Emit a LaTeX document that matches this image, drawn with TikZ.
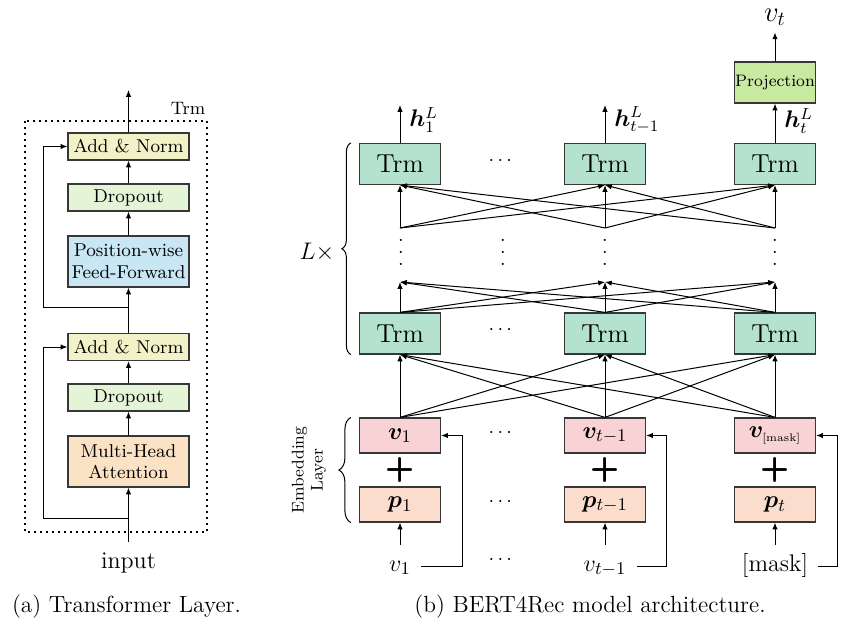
\documentclass[tikz,border=0pt]{standalone}
\usepackage{amsmath}
\usepackage{amssymb}
\usepackage{bm}
\usetikzlibrary{arrows.meta,decorations.pathreplacing}

\definecolor{addnormc}{RGB}{242,242,200}
\definecolor{dropc}{RGB}{228,244,215}
\definecolor{ffnc}{RGB}{200,230,243}
\definecolor{mhac}{RGB}{252,226,196}
\definecolor{trmc}{RGB}{180,226,206}
\definecolor{projc}{RGB}{200,233,160}
\definecolor{vembc}{RGB}{248,210,212}
\definecolor{pembc}{RGB}{251,221,205}
\definecolor{edgec}{RGB}{55,55,55}

\newcommand{\vdts}{\vbox{\baselineskip6pt\lineskiplimit0pt\hbox{.}\hbox{.}\hbox{.}}}

\tikzset{
	box/.style={draw=edgec, line width=0.6pt, inner sep=0pt, minimum width=60.5pt, align=center, font=\fontsize{9.3}{10.8}\selectfont},
	thinbox/.style={box, minimum height=13.5pt},
	tallbox/.style={box, minimum height=25.5pt},
	trmbox/.style={draw=edgec, line width=0.6pt, fill=trmc, inner sep=0pt, minimum width=40.5pt, minimum height=20.5pt, font=\fontsize{13}{15}\selectfont},
	embbox/.style={draw=edgec, line width=0.6pt, inner sep=0pt, minimum width=40.5pt, minimum height=17.5pt, font=\fontsize{13}{15}\selectfont},
	inlbl/.style={anchor=base, inner sep=5pt, text height=8pt, text depth=3pt, font=\fontsize{13}{15}\selectfont},
	plus/.style={inner sep=0pt, font=\fontsize{17}{17}\sffamily\bfseries},
	arr/.style={-{Latex[length=3.4pt,width=2.7pt]}, line width=0.5pt},
	ln/.style={line width=0.5pt},
}

\begin{document}
\begin{tikzpicture}[x=0.5pt,y=-0.5pt]
			\useasboundingbox (0,0) rectangle (850,631);
			
			\draw[line width=1pt, dash pattern=on 1pt off 2pt] (25,121) rectangle (207,532);
			\node[font=\fontsize{9}{10}\selectfont] (trmlbl) at (188,108) {Trm};
			
			\node[thinbox,fill=addnormc] (an2) at (128.5,146.5) {Add \& Norm};
			\node[thinbox,fill=dropc] (do2) at (128.5,197.5) {Dropout};
			\node[tallbox,fill=ffnc] (ff) at (128.5,261.5) {Position-wise\\Feed-Forward};
			\node[thinbox,fill=addnormc] (an1) at (128.5,347) {Add \& Norm};
			\node[thinbox,fill=dropc] (do1) at (128.5,397.5) {Dropout};
			\node[tallbox,fill=mhac] (mha) at (128.5,461.5) {Multi-Head\\Attention};
			\node[inlbl,font=\fontsize{12}{14}\selectfont] (inp) at (128.5,568) {input};
			
			\coordinate (j1) at (128.5,518);
			\coordinate (k1) at (43,518);
			\coordinate (j2) at (128.5,307);
			\coordinate (k2) at (43,307);
			\coordinate (top) at (128.5,90);
			
			\path [arr] (inp) edge (mha);
			\path [arr] (mha) edge (do1);
			\path [arr] (do1) edge (an1);
			\path [arr] (an1) edge (ff);
			\path [arr] (ff) edge (do2);
			\path [arr] (do2) edge (an2);
			\path [arr] (an2) edge (top);
			\draw [arr] (j1) -- (k1) |- (an1);
			\draw [arr] (j2) -- (k2) |- (an2);
			
			\node[trmbox] (tu1) at (400,164) {Trm};
			\node[trmbox] (tu2) at (605,164) {Trm};
			\node[trmbox] (tu3) at (775,164) {Trm};
			\node[trmbox] (tl1) at (400,333.5) {Trm};
			\node[trmbox] (tl2) at (605,333.5) {Trm};
			\node[trmbox] (tl3) at (775,333.5) {Trm};
			\node[embbox,fill=vembc] (v1) at (400,435.5) {$\bm{v}_1$};
			\node[embbox,fill=vembc] (v2) at (605,435.5) {$\bm{v}_{t-1}$};
			\node[embbox,fill=vembc] (v3) at (775,435.5) {$\bm{v}_{\mbox{\fontsize{5.5}{6}\selectfont[mask]}}$};
			\node[embbox,fill=pembc] (p1) at (400,504.5) {$\bm{p}_1$};
			\node[embbox,fill=pembc] (p2) at (605,504.5) {$\bm{p}_{t-1}$};
			\node[embbox,fill=pembc] (p3) at (775,504.5) {$\bm{p}_t$};
			\node[inlbl] (in1) at (400,571) {$v_1$};
			\node[inlbl] (in2) at (605,571) {$v_{t-1}$};
			\node[inlbl,font=\fontsize{12}{14}\selectfont] (in3) at (775,571) {[mask]};
			
			\node[draw=edgec, line width=0.6pt, fill=projc, inner sep=0pt, minimum width=40.5pt, minimum height=20.5pt, font=\fontsize{8.3}{10}\selectfont] (proj) at (775,82.5) {Projection};
			\node[font=\fontsize{14}{16}\selectfont] (vt) at (775,17) {$v_t$};
			
			\node[plus] (pl1) at (400,470) {+};
			\node[plus] (pl2) at (605,470) {+};
			\node[plus] (pl3) at (775,470) {+};
			
			\node (hd1) at (502,161) {$\cdots$};
			\node (hd2) at (502,330) {$\cdots$};
			\node (hd3) at (502,433) {$\cdots$};
			\node (hd4) at (502,502) {$\cdots$};
			\node (hd5) at (502,560) {$\cdots$};
			\node (vd1) at (401,252) {\vdts};
			\node (vd2) at (503,252) {\vdts};
			\node (vd3) at (605,252) {\vdts};
			\node (vd4) at (775,252) {\vdts};
			
			\coordinate (a1) at (400,282);
			\coordinate (a2) at (605,282);
			\coordinate (a3) at (775,282);
			\coordinate (b1) at (400,228);
			\coordinate (b2) at (605,228);
			\coordinate (b3) at (775,228);
			\coordinate (o1) at (400,105);
			\coordinate (o2) at (605,105);
			\coordinate (f1) at (462,563);
			\coordinate (f2) at (666,563);
			\coordinate (f3) at (837,563);
			
			\path [arr] (v1.north) edge (tl1.south);
			\path [arr] (v1.north) edge (tl2.south);
			\path [arr] (v1.north) edge (tl3.south);
			\path [arr] (v2.north) edge (tl1.south);
			\path [arr] (v2.north) edge (tl2.south);
			\path [arr] (v2.north) edge (tl3.south);
			\path [arr] (v3.north) edge (tl1.south);
			\path [arr] (v3.north) edge (tl2.south);
			\path [arr] (v3.north) edge (tl3.south);
			
			\path [arr] (tl1.north) edge (a1);
			\path [arr] (tl1.north) edge (a2);
			\path [arr] (tl1.north) edge (a3);
			\path [arr] (tl2.north) edge (a1);
			\path [arr] (tl2.north) edge (a2);
			\path [arr] (tl2.north) edge (a3);
			\path [arr] (tl3.north) edge (a1);
			\path [arr] (tl3.north) edge (a2);
			\path [arr] (tl3.north) edge (a3);
			
			\path [arr] (b1) edge (tu1.south);
			\path [arr] (b1) edge (tu2.south);
			\path [arr] (b1) edge (tu3.south);
			\path [arr] (b2) edge (tu1.south);
			\path [arr] (b2) edge (tu2.south);
			\path [arr] (b2) edge (tu3.south);
			\path [arr] (b3) edge (tu1.south);
			\path [arr] (b3) edge (tu2.south);
			\path [arr] (b3) edge (tu3.south);
			
			\path [arr] (tu1) edge (o1);
			\path [arr] (tu2) edge (o2);
			\path [arr] (tu3) edge (proj);
			\path [arr] (proj) edge (vt);
			\node[anchor=west, inner sep=1pt, font=\fontsize{12}{14}\selectfont] (h1) at (407,120) {$\bm{h}_1^L$};
			\node[anchor=west, inner sep=1pt, font=\fontsize{12}{14}\selectfont] (h2) at (612,120) {$\bm{h}_{t-1}^L$};
			\node[anchor=west, inner sep=1pt, font=\fontsize{12}{14}\selectfont] (h3) at (782,121) {$\bm{h}_t^L$};
			
			\path [arr] (in1) edge (p1);
			\path [arr] (in2) edge (p2);
			\path [arr] (in3) edge (p3);
			\draw [arr] (in1.east) -- (in1.east -| f1) |- (v1);
			\draw [arr] (in2.east) -- (in2.east -| f2) |- (v2);
			\draw [arr] (in3.east) -- (in3.east -| f3) |- (v3);
			
			\draw [ln, decorate, decoration={brace, amplitude=4.5pt}] ([xshift=-4pt]tl1.south west) -- ([xshift=-4pt]tu1.north west);
			\node[font=\fontsize{12}{14}\selectfont] (lx) at (317,252) {$L\times$};
			\draw [ln, decorate, decoration={brace, amplitude=6pt}] ([xshift=-4pt]p1.south west) -- ([xshift=-4pt]v1.north west);
			\node[rotate=90, align=center, font=\fontsize{8.5}{9.5}\selectfont] (emb) at (309,470) {Embedding\\Layer};
			
			\node[font=\fontsize{11.7}{14}\selectfont] (capa) at (126.5,607) {(a) Transformer Layer.};
			\node[font=\fontsize{11.7}{14}\selectfont] (capb) at (590,607) {(b) BERT4Rec model architecture.};
		\end{tikzpicture}
\end{document}
